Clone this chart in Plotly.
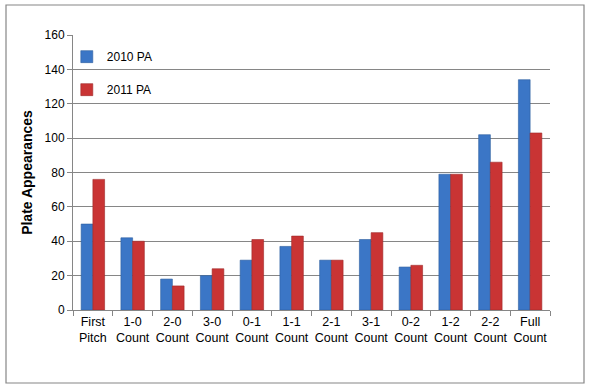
import plotly.graph_objects as go

categories = ["First<br>Pitch", "1-0<br>Count", "2-0<br>Count", "3-0<br>Count", "0-1<br>Count",
              "1-1<br>Count", "2-1<br>Count", "3-1<br>Count", "0-2<br>Count", "1-2<br>Count",
              "2-2<br>Count", "Full<br>Count"]
pa_2010 = [50, 42, 18, 20, 29, 37, 29, 41, 25, 79, 102, 134]
pa_2011 = [76, 40, 14, 24, 41, 43, 29, 45, 26, 79, 86, 103]
y_ticks = [0, 20, 40, 60, 80, 100, 120, 140, 160]

fig = go.Figure()
fig.add_trace(go.Bar(x=categories, y=pa_2010, name="2010 PA", legendgroup="a",
                     marker=dict(color="#3B76C6", line=dict(color="#2E5E9E", width=0.6))))
fig.add_trace(go.Bar(x=categories, y=pa_2011, name="2011 PA", legendgroup="b",
                     marker=dict(color="#C93434", line=dict(color="#9E2828", width=0.6))))

W, H = 589, 389
L, R, T, B = 73, 39, 35, 79
pw, ph = W - L - R, H - T - B

fig.update_layout(
    width=W, height=H,
    margin=dict(l=L, r=R, t=T, b=B),
    paper_bgcolor="white", plot_bgcolor="white",
    barmode="group", bargap=0.41, bargroupgap=0,
    font=dict(family="Liberation Sans, Arial, sans-serif", size=12, color="#000000"),
    showlegend=True,
    legend=dict(x=-0.013, y=0.974, xanchor="left", yanchor="top",
                bgcolor="rgba(0,0,0,0)", tracegroupgap=14,
                font=dict(size=12), itemwidth=30),
    shapes=[dict(type="rect", xref="paper", yref="paper",
                 x0=(6 - L) / pw, x1=(584 - L) / pw,
                 y0=-(383 - (T + ph)) / ph, y1=(T + ph - 5) / ph,
                 line=dict(color="#868686", width=1.2), layer="below")],
)
fig.update_yaxes(range=[0, 160], tickvals=y_ticks, showgrid=True, gridcolor="#868686",
                 gridwidth=1, showline=True, linecolor="#868686", ticks="outside",
                 ticklen=5, tickcolor="#868686", zeroline=False,
                 title=dict(text="<b>Plate Appearances</b>", font=dict(size=14), standoff=8))
fig.update_xaxes(showline=True, linecolor="#868686", ticks="outside", tickson="boundaries",
                 ticklen=5, tickcolor="#868686", showgrid=False, tickangle=0,
                 tickfont=dict(size=12.5))

fig.write_html("out.html", config={"displayModeBar": False},
               post_script="document.body.style.margin='0';")
